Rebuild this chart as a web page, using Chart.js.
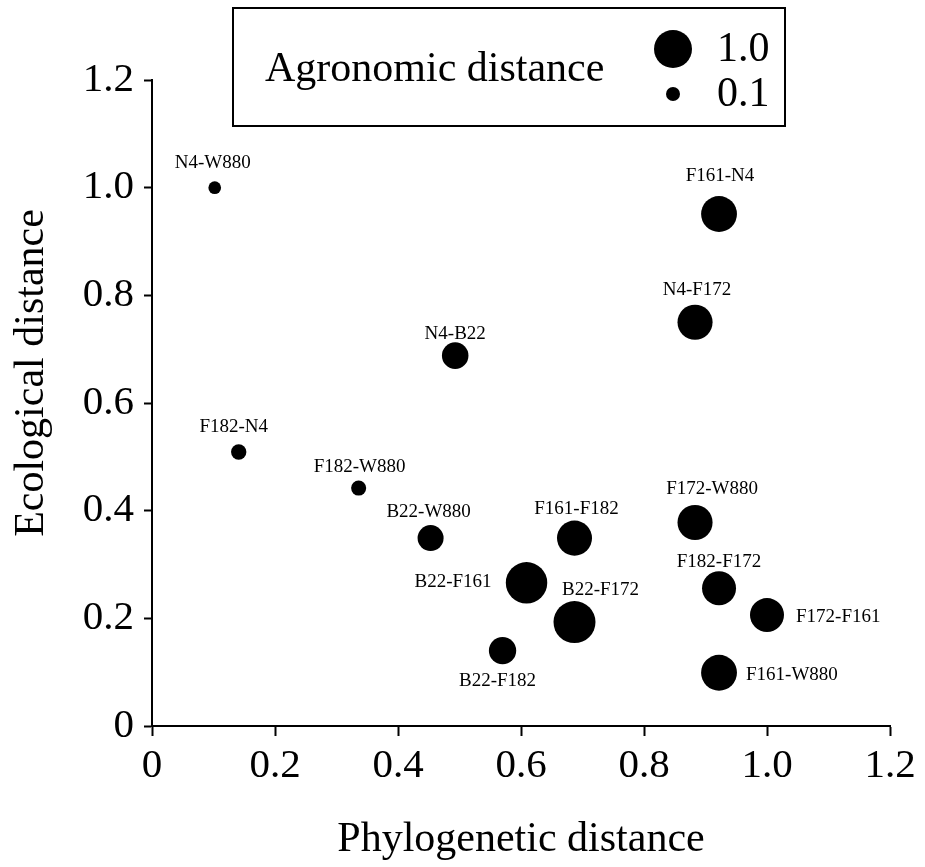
<!DOCTYPE html>
<html>
<head>
<meta charset="utf-8">
<title>Phylogenetic vs ecological distance</title>
<script src="https://cdn.jsdelivr.net/npm/chart.js@4/dist/chart.umd.min.js"></script>
<style>
    html, body { margin: 0; padding: 0; background: #fff; }
    #wrap { position: relative; width: 925px; height: 867px; }
</style>
</head>
<body>
<div id="wrap"><canvas id="chart"></canvas></div>
<script>
// ============================================================================
// DATA
// ============================================================================

var pairNames = ['N4-W880', 'F161-N4', 'N4-F172', 'N4-B22', 'F182-N4', 'F182-W880',
    'B22-W880', 'F161-F182', 'F172-W880', 'B22-F161', 'B22-F172', 'F182-F172',
    'F172-F161', 'F161-W880', 'B22-F182'];
var phylogenetic = [0.102, 0.922, 0.883, 0.493, 0.141, 0.336,
    0.453, 0.687, 0.883, 0.609, 0.687, 0.922,
    1.000, 0.922, 0.570];
var ecological = [1.000, 0.951, 0.750, 0.688, 0.509, 0.442,
    0.349, 0.349, 0.378, 0.266, 0.193, 0.256,
    0.206, 0.099, 0.140];
var agronomic = [0.05, 0.92, 0.89, 0.57, 0.15, 0.14,
    0.55, 0.89, 0.89, 1.13, 1.15, 0.85,
    0.85, 0.92, 0.60];

var legendValues = [1.0, 0.1];
var legendLabels = ['1.0', '0.1'];

var xTickValues = [0, 0.2, 0.4, 0.6, 0.8, 1.0, 1.2];
var xTickLabels = ['0', '0.2', '0.4', '0.6', '0.8', '1.0', '1.2'];
var yTickValues = [0, 0.2, 0.4, 0.6, 0.8, 1.0, 1.2];
var yTickLabels = ['0', '0.2', '0.4', '0.6', '0.8', '1.0', '1.2'];

// ============================================================================
// STYLE
// ============================================================================

var FONT = '"Liberation Serif", "Times New Roman", serif';

// label placement per point: [align, dx, dy] relative to the point, baseline
var labelPlacement = [
    ['center', -2, -20], ['center', 1, -33], ['center', 2, -27], ['center', 0, -17],
    ['center', -5, -20], ['center', 1, -16], ['center', -2, -21], ['center', 2, -24],
    ['center', 17, -29], ['right', -35, 4], ['center', 26, -27], ['center', 0, -21],
    ['left', 29, 7], ['left', 27, 7], ['center', -5, 35]
];

// bubble radius from agronomic distance (0.1 -> 7px, 1.0 -> 19px)
function radiusFor(v) {
    return 5.67 + 13.33 * v;
}

// ============================================================================
// PLUGINS
// ============================================================================

var pointLabels = {
    id: 'pointLabels',
    afterDatasetsDraw: function(chart) {
        var ctx = chart.ctx;
        var meta = chart.getDatasetMeta(0);
        ctx.save();
        ctx.fillStyle = '#000';
        ctx.font = '19px ' + FONT;
        ctx.textBaseline = 'alphabetic';
        meta.data.forEach(function(pt, i) {
            var p = labelPlacement[i];
            ctx.textAlign = p[0];
            ctx.fillText(pairNames[i], pt.x + p[1], pt.y + p[2]);
        });
        ctx.restore();
    }
};

var extras = {
    id: 'extras',
    afterDraw: function(chart) {
        var ctx = chart.ctx;
        var area = chart.chartArea;
        ctx.save();
        ctx.fillStyle = '#000';
        ctx.strokeStyle = '#000';

        // axis titles
        ctx.font = '42px ' + FONT;
        ctx.textAlign = 'center';
        ctx.textBaseline = 'alphabetic';
        ctx.fillText('Phylogenetic distance', (area.left + area.right) / 2, 851);
        ctx.save();
        ctx.translate(43, 373);
        ctx.rotate(-Math.PI / 2);
        ctx.fillText('Ecological distance', 0, 0);
        ctx.restore();

        // size legend box
        ctx.lineWidth = 2;
        ctx.strokeRect(233, 8, 552, 118);
        ctx.textAlign = 'left';
        ctx.fillText('Agronomic distance', 265, 81);
        var rows = [49, 94];
        var baselines = [61, 106];
        legendValues.forEach(function(v, i) {
            ctx.beginPath();
            ctx.arc(673, rows[i], radiusFor(v), 0, Math.PI * 2);
            ctx.fill();
            ctx.fillText(legendLabels[i], 717, baselines[i]);
        });
        ctx.restore();
    }
};

// ============================================================================
// CHART
// ============================================================================

function axisOptions(values, labels, fitProp, fitSize, tickLen, pad) {
    return {
        type: 'linear',
        min: values[0],
        max: values[values.length - 1],
        afterBuildTicks: function(scale) {
            scale.ticks = values.map(function(v) { return { value: v }; });
        },
        afterFit: function(scale) {
            scale[fitProp] = fitSize;
        },
        grid: {
            display: true,
            drawOnChartArea: false,
            drawTicks: true,
            tickLength: tickLen,
            tickWidth: 2,
            color: '#000'
        },
        border: { display: true, color: '#000', width: 2 },
        ticks: {
            color: '#000',
            padding: pad,
            font: { family: FONT, size: 41 },
            callback: function(value, index) { return labels[index]; }
        }
    };
}

var points = phylogenetic.map(function(x, i) {
    return { x: x, y: ecological[i] };
});

new Chart(document.getElementById('chart'), {
    type: 'scatter',
    data: {
        datasets: [{
            data: points,
            backgroundColor: '#000',
            borderWidth: 0,
            pointRadius: function(c) { return radiusFor(agronomic[c.dataIndex]); },
            pointHoverRadius: function(c) { return radiusFor(agronomic[c.dataIndex]); }
        }]
    },
    options: {
        responsive: true,
        maintainAspectRatio: false,
        animation: false,
        layout: { padding: { top: 80, right: 35, left: 0, bottom: 0 } },
        plugins: {
            legend: { display: false },
            tooltip: { enabled: false }
        },
        scales: {
            x: axisOptions(xTickValues, xTickLabels, 'height', 141, 10, 6),
            y: axisOptions(yTickValues, yTickLabels, 'width', 152, 8, 10)
        }
    },
    plugins: [pointLabels, extras]
});
</script>
</body>
</html>
